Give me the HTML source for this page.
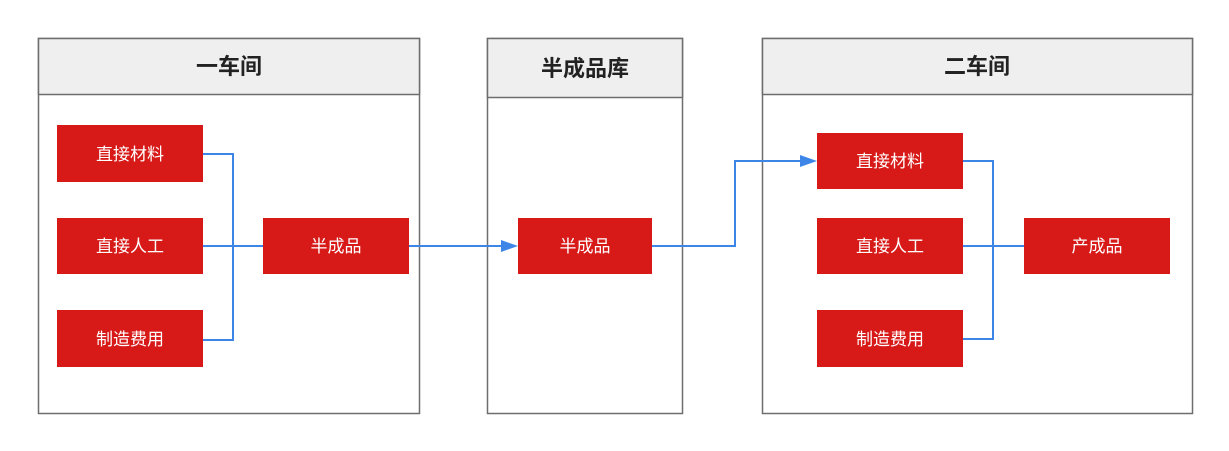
<!DOCTYPE html>
<html><head><meta charset="utf-8"><style>
html,body{margin:0;padding:0;background:#fff;}
svg{display:block}
text{font-family:"Liberation Sans","Noto Sans CJK SC",sans-serif;}
</style></head><body>
<svg width="1229" height="451" viewBox="0 0 1229 451" xmlns="http://www.w3.org/2000/svg">
<rect width="1229" height="451" fill="#fff"/>
<g stroke="#6e6e6e" stroke-width="1.5">
<rect x="38.5" y="38.5" width="381" height="375" fill="#fff"/>
<rect x="38.5" y="38.5" width="381" height="56" fill="#efefef"/>
<rect x="487.5" y="38.5" width="195" height="375" fill="#fff"/>
<rect x="487.5" y="38.5" width="195" height="59" fill="#efefef"/>
<rect x="762.5" y="38.5" width="430" height="375" fill="#fff"/>
<rect x="762.5" y="38.5" width="430" height="56" fill="#efefef"/>
</g>
<g font-size="22" font-weight="bold" fill="#222" text-anchor="middle">
<text x="229" y="74">一车间</text>
<text x="585" y="76">半成品库</text>
<text x="977" y="74">二车间</text>
</g>
<g fill="none" stroke="#3d86e8" stroke-width="2">
<polyline points="203,154 233,154 233,340 203,340"/>
<line x1="203" y1="246" x2="263" y2="246"/>
<line x1="409" y1="246" x2="502" y2="246"/>
<polyline points="652,246 735,246 735,161 802,161"/>
<polyline points="963,161 993,161 993,339 963,339"/>
<line x1="963" y1="246" x2="1024" y2="246"/>
</g>
<g fill="#3d86e8">
<polygon points="518,246 501,240 501,252"/>
<polygon points="817,161 800,155 800,167"/>
</g>
<g fill="#d71a18">
<rect x="57" y="125" width="146" height="57"/>
<rect x="57" y="218" width="146" height="56"/>
<rect x="57" y="310" width="146" height="57"/>
<rect x="263" y="218" width="146" height="56"/>
<rect x="518" y="218" width="134" height="56"/>
<rect x="817" y="133" width="146" height="56"/>
<rect x="817" y="218" width="146" height="56"/>
<rect x="817" y="310" width="146" height="57"/>
<rect x="1024" y="218" width="146" height="56"/>
</g>
<g font-size="17" fill="#fff" text-anchor="middle">
<text x="130" y="160">直接材料</text>
<text x="130" y="252">直接人工</text>
<text x="130" y="345">制造费用</text>
<text x="336" y="252">半成品</text>
<text x="585" y="252">半成品</text>
<text x="890" y="167">直接材料</text>
<text x="890" y="252">直接人工</text>
<text x="890" y="345">制造费用</text>
<text x="1097" y="252">产成品</text>
</g>
</svg>
</body></html>
